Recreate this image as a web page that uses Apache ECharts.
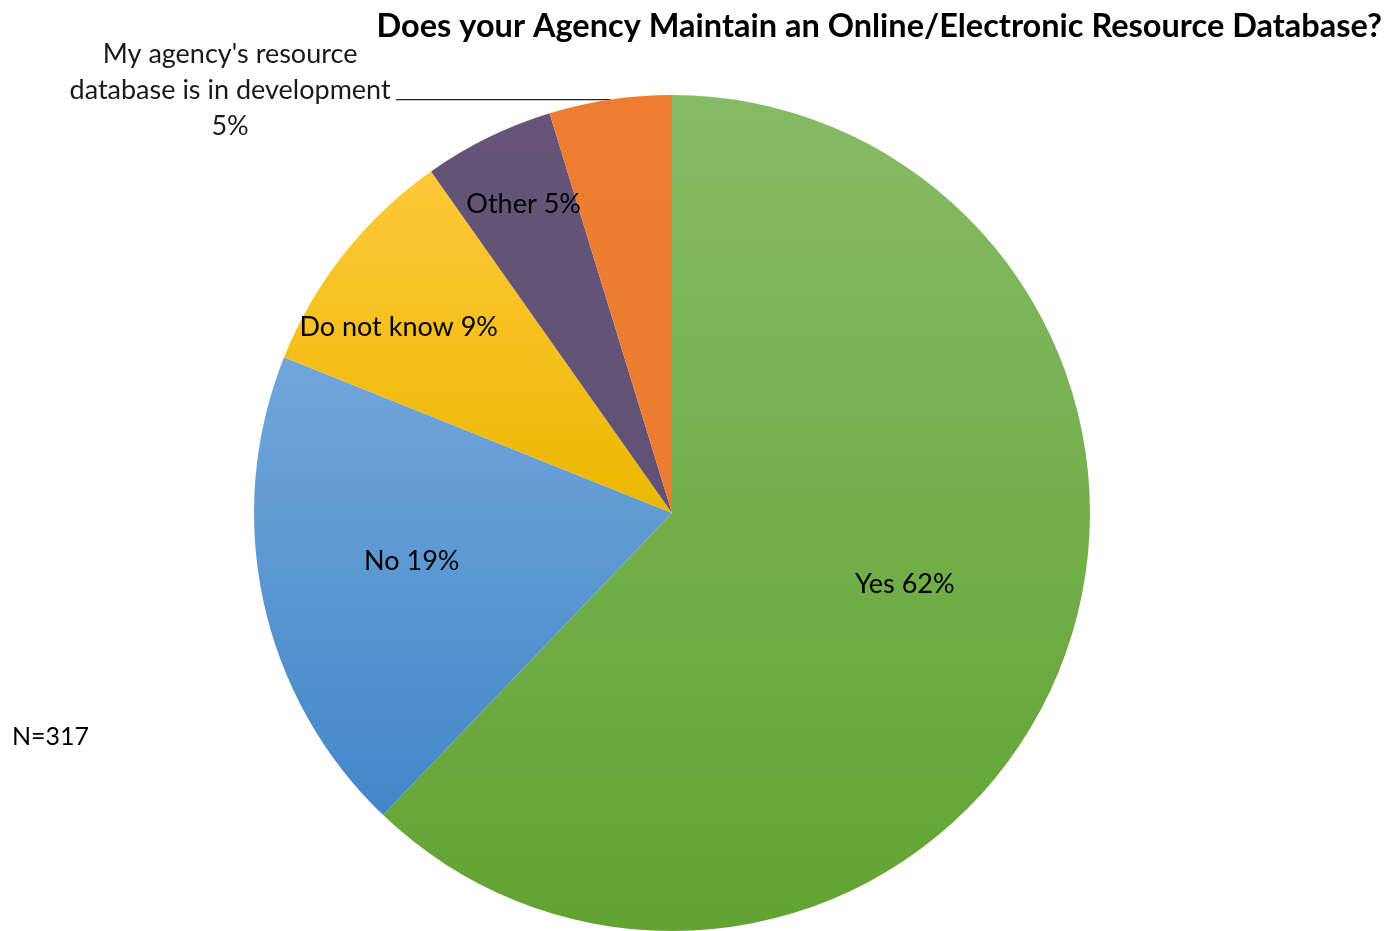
<!DOCTYPE html>
<html>
<head>
<meta charset="utf-8">
<script src="https://cdn.jsdelivr.net/npm/echarts@6/dist/echarts.min.js"></script>
<style>
html,body{margin:0;padding:0;background:#fff;}
#chart{width:1391px;height:931px;}
</style>
</head>
<body>
<div id="chart"></div>
<script>
const titleText = 'Does your Agency Maintain an Online/Electronic Resource Database?';
const categories = ['Yes', 'No', 'Do not know', 'Other', "My agency's resource database is in development"];
// estimated response counts (N=317), shown as rounded percentages
const values = [197, 60, 29, 16, 15];
const noteText = 'N=317';

const topColors = ['#86bb66', '#72a6da', '#ffc83a', '#655478', '#ee7d32'];
const bottomColors = ['#62a332', '#4287c9', '#ebb800', '#5f5175', '#ec7c30'];
const labelOffsets = [[36, -8], [-53, 3], [-107, -54], [-55, -118], [0, -9]];

const chart = echarts.init(document.getElementById('chart'));

const data = categories.map((name, i) => {
  const item = {
    name: name,
    value: values[i],
    itemStyle: {
      color: new echarts.graphic.LinearGradient(0, 0, 0, 1, [
        { offset: 0, color: topColors[i] },
        { offset: 1, color: bottomColors[i] }
      ])
    },
    label: { offset: labelOffsets[i] }
  };
  if (i === 4) {
    item.label = {
      position: 'outside',
      offset: labelOffsets[i],
      formatter: "{c|My agency's resource}\n{c|database is in development}\n{c|{d}%}",
      distanceToLabelLine: 4,
      rich: {
        c: { width: 324, align: 'center', fontSize: 27, lineHeight: 36, color: '#1a1a1a', fontFamily: 'Lato' }
      }
    };
    item.labelLine = { show: true, length: 0, length2: 214, lineStyle: { color: '#222', width: 1.2 } };
  }
  return item;
});

chart.setOption({
  animation: false,
  title: {
    text: titleText,
    right: 4,
    top: 5,
    textStyle: { fontFamily: 'Lato', fontWeight: 'bold', fontSize: 32.5, color: '#000' }
  },
  graphic: [{
    type: 'text',
    left: 12,
    top: 724,
    style: { text: noteText, fontFamily: 'Lato', fontSize: 25, fill: '#000' }
  }],
  series: [{
    type: 'pie',
    center: [672, 513],
    radius: 418,
    startAngle: 90,
    clockwise: true,
    avoidLabelOverlap: false,
    percentPrecision: 0,
    data: data,
    label: {
      show: true,
      position: 'inside',
      formatter: '{b} {d}%',
      fontFamily: 'Lato',
      fontSize: 27,
      color: '#000'
    },
    labelLine: { show: false },
    itemStyle: { borderWidth: 0 }
  }]
});
</script>
</body>
</html>
